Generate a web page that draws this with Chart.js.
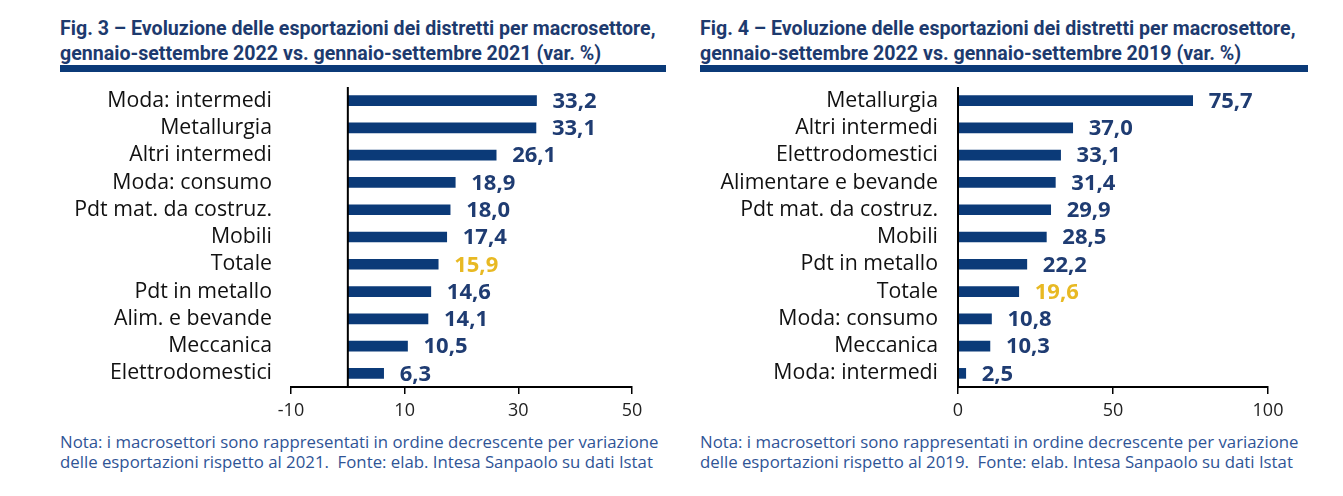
<!DOCTYPE html>
<html lang="it">
<head>
<meta charset="UTF-8">
<title>Esportazioni dei distretti per macrosettore</title>
<script src="https://cdn.jsdelivr.net/npm/chart.js"></script>
<style>
    body {
        margin: 0;
        background: #fff;
        width: 1343px;
        height: 496px;
        position: relative;
        overflow: hidden;
        font-family: 'Open Sans', sans-serif;
    }
    .title {
        position: absolute;
        top: 16px;
        font-family: Roboto, sans-serif;
        font-weight: 700;
        font-size: 19.6px;
        line-height: 25px;
        color: #1d3a6e;
        white-space: nowrap;
    }
    .rule {
        position: absolute;
        top: 65px;
        height: 7px;
        background: #0b3a78;
    }
    .wrap {
        position: absolute;
        top: 80px;
        height: 350px;
    }
    .note {
        position: absolute;
        top: 432px;
        font-size: 16.8px;
        line-height: 20px;
        color: #2f5496;
        white-space: nowrap;
    }
</style>
</head>
<body>
    <div class="title" style="left:60px">Fig. 3 – Evoluzione delle esportazioni dei distretti per macrosettore,<br>gennaio-settembre 2022 vs. gennaio-settembre 2021 (var. %)</div>
    <div class="rule" style="left:60px;width:606px"></div>
    <div class="wrap" style="left:0;width:680px"><canvas id="fig3"></canvas></div>
    <div class="note" style="left:60px">Nota: i macrosettori sono rappresentati in ordine decrescente per variazione<br>delle esportazioni rispetto al 2021.&nbsp; Fonte: elab. Intesa Sanpaolo su dati Istat</div>

    <div class="title" style="left:700px">Fig. 4 – Evoluzione delle esportazioni dei distretti per macrosettore,<br>gennaio-settembre 2022 vs. gennaio-settembre 2019 (var. %)</div>
    <div class="rule" style="left:700px;width:608px"></div>
    <div class="wrap" style="left:680px;width:663px"><canvas id="fig4"></canvas></div>
    <div class="note" style="left:700px">Nota: i macrosettori sono rappresentati in ordine decrescente per variazione<br>delle esportazioni rispetto al 2019.&nbsp; Fonte: elab. Intesa Sanpaolo su dati Istat</div>

<script>
    // Fig. 3: gen-set 2022 vs gen-set 2021
    const sectors21 = ['Moda: intermedi', 'Metallurgia', 'Altri intermedi', 'Moda: consumo',
        'Pdt mat. da costruz.', 'Mobili', 'Totale', 'Pdt in metallo', 'Alim. e bevande',
        'Meccanica', 'Elettrodomestici'];
    const change21 = [33.2, 33.1, 26.1, 18.9, 18.0, 17.4, 15.9, 14.6, 14.1, 10.5, 6.3];
    const ticks21 = [-10, 10, 30, 50];

    // Fig. 4: gen-set 2022 vs gen-set 2019
    const sectors19 = ['Metallurgia', 'Altri intermedi', 'Elettrodomestici', 'Alimentare e bevande',
        'Pdt mat. da costruz.', 'Mobili', 'Pdt in metallo', 'Totale', 'Moda: consumo',
        'Meccanica', 'Moda: intermedi'];
    const change19 = [75.7, 37.0, 33.1, 31.4, 29.9, 28.5, 22.2, 19.6, 10.8, 10.3, 2.5];
    const ticks19 = [0, 50, 100];

    const NAVY = '#0b3a78';
    const LABEL_NAVY = '#1f3c72';
    const GOLD = '#e8b923';

    // value labels at the end of each bar, "Totale" in gold
    const barLabels = {
        id: 'barLabels',
        afterDatasetsDraw(chart) {
            const ctx = chart.ctx;
            const meta = chart.getDatasetMeta(0);
            const values = chart.data.datasets[0].data;
            ctx.save();
            ctx.font = 'bold 22px "Open Sans"';
            ctx.textBaseline = 'middle';
            ctx.textAlign = 'left';
            meta.data.forEach((bar, i) => {
                ctx.fillStyle = chart.data.labels[i] === 'Totale' ? GOLD : LABEL_NAVY;
                ctx.fillText(values[i].toFixed(1).replace('.', ','), bar.x + 16, bar.y + 1);
            });
            ctx.restore();
        }
    };

    // vertical axis line at zero
    const zeroLine = {
        id: 'zeroLine',
        afterDatasetsDraw(chart) {
            const ctx = chart.ctx;
            const x = chart.scales.x.getPixelForValue(0);
            const { top, bottom } = chart.chartArea;
            ctx.save();
            ctx.strokeStyle = '#000';
            ctx.lineWidth = 2;
            ctx.beginPath();
            ctx.moveTo(x, top);
            ctx.lineTo(x, bottom);
            ctx.stroke();
            ctx.restore();
        }
    };

    const createChart = (id, labels, values, tickValues, yWidth, rightPad, labelPad) => {
        return new Chart(document.getElementById(id), {
            type: 'bar',
            data: {
                labels: labels,
                datasets: [{
                    data: values,
                    backgroundColor: NAVY,
                    barThickness: 10,
                }],
            },
            options: {
                indexAxis: 'y',
                responsive: true,
                maintainAspectRatio: false,
                animation: false,
                layout: { padding: { top: 7, right: rightPad, bottom: 0, left: 0 } },
                plugins: {
                    legend: { display: false },
                    tooltip: { enabled: false },
                },
                scales: {
                    x: {
                        min: tickValues[0],
                        max: tickValues[tickValues.length - 1],
                        afterBuildTicks: scale => {
                            scale.ticks = tickValues.map(v => ({ value: v }));
                        },
                        afterFit: scale => { scale.height = 43; },
                        grid: {
                            drawOnChartArea: false,
                            drawTicks: true,
                            tickLength: 7,
                            color: '#000',
                            lineWidth: 1.5,
                        },
                        border: { display: true, color: '#000', width: 2 },
                        ticks: {
                            padding: 6,
                            color: '#222',
                            font: { family: 'Open Sans', size: 18 },
                        },
                    },
                    y: {
                        afterFit: scale => {
                            scale.width = yWidth;
                            scale.paddingTop = 0;
                            scale.paddingBottom = 0;
                        },
                        grid: { display: false, drawTicks: false },
                        border: { display: false },
                        ticks: {
                            autoSkip: false,
                            padding: labelPad,
                            color: '#111',
                            font: { family: 'Open Sans', size: 21.3 },
                        },
                    },
                },
            },
            plugins: [zeroLine, barLabels],
        });
    };

    createChart('fig3', sectors21, change21, ticks21, 291, 48, 19);
    createChart('fig4', sectors19, change19, ticks19, 278, 75, 20);
</script>
</body>
</html>
